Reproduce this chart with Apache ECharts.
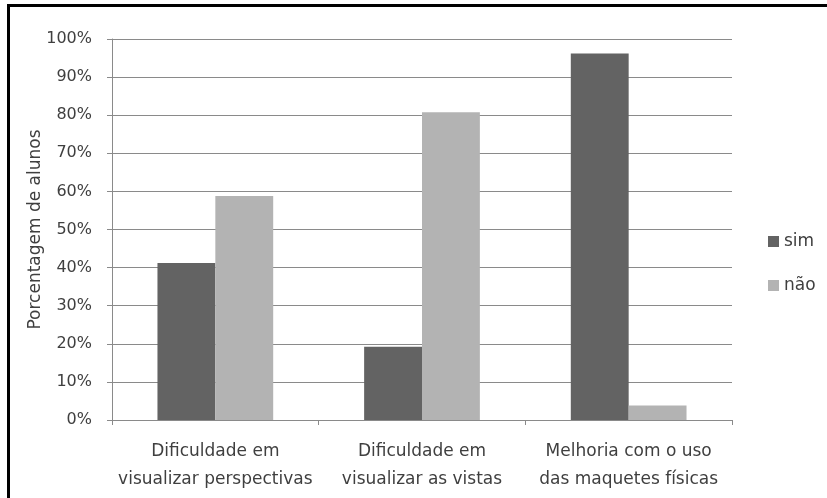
<!DOCTYPE html>
<html>
<head>
<meta charset="utf-8">
<script src="https://cdn.jsdelivr.net/npm/echarts@6/dist/echarts.min.js"></script>
<style>
  html, body { margin: 0; padding: 0; background: #ffffff; }
  #chart { width: 827px; height: 498px; }
</style>
</head>
<body>
<div id="chart"></div>
<script>
// Survey answers per question (percent of students)
var categories = [
  'Dificuldade em\nvisualizar perspectivas',
  'Dificuldade em\nvisualizar as vistas',
  'Melhoria com o uso\ndas maquetes físicas'
];
var simValues = [41.2, 19.2, 96.2];
var naoValues = [58.8, 80.8, 3.8];
var seriesNames = ['sim', 'não'];
var yTicks = { min: 0, max: 100, step: 10 };
var yTitle = 'Porcentagem de alunos';

var FONT = 'DejaVu Sans';
var TEXT = '#3f3f3f';
var LINE = '#8a8a8a';

var chart = echarts.init(document.getElementById('chart'));
chart.setOption({
  animation: false,
  backgroundColor: '#ffffff',
  textStyle: { fontFamily: FONT, color: TEXT },
  grid: { left: 112, right: 95, top: 39, bottom: 78, containLabel: false },
  legend: {
    orient: 'vertical',
    left: 763,
    top: 228,
    icon: 'rect',
    itemWidth: 11,
    itemHeight: 11,
    itemGap: 27,
    textStyle: { fontFamily: FONT, fontSize: 17, color: TEXT },
    data: seriesNames
  },
  xAxis: {
    type: 'category',
    data: categories,
    boundaryGap: true,
    axisLine: { lineStyle: { color: LINE, width: 1 } },
    axisTick: { show: true, length: 5, lineStyle: { color: LINE } },
    axisLabel: {
      fontFamily: FONT, fontSize: 17, color: TEXT,
      lineHeight: 28, margin: 18, interval: 0
    }
  },
  yAxis: {
    type: 'value',
    min: yTicks.min,
    max: yTicks.max,
    interval: yTicks.step,
    name: yTitle,
    nameLocation: 'middle',
    nameGap: 68,
    nameMoveOverlap: false,
    nameTextStyle: { fontFamily: FONT, fontSize: 17, color: TEXT },
    axisLine: { show: true, lineStyle: { color: LINE, width: 1 } },
    axisTick: { show: true, length: 5, lineStyle: { color: LINE } },
    axisLabel: {
      fontFamily: FONT, fontSize: 16, color: TEXT, margin: 20,
      formatter: '{value}%'
    },
    splitLine: { show: true, lineStyle: { color: LINE, width: 1 } }
  },
  series: [
    {
      name: seriesNames[0],
      type: 'bar',
      data: simValues,
      barGap: '0%',
      barCategoryGap: '44%',
      itemStyle: { color: '#636363' }
    },
    {
      name: seriesNames[1],
      type: 'bar',
      data: naoValues,
      barGap: '0%',
      barCategoryGap: '44%',
      itemStyle: { color: '#b3b3b3' }
    }
  ],
  graphic: [
    {
      type: 'rect',
      silent: true,
      shape: { x: 8.5, y: 5.5, width: 900, height: 600 },
      style: { fill: 'none', stroke: '#000000', lineWidth: 3 }
    }
  ]
});
</script>
</body>
</html>
